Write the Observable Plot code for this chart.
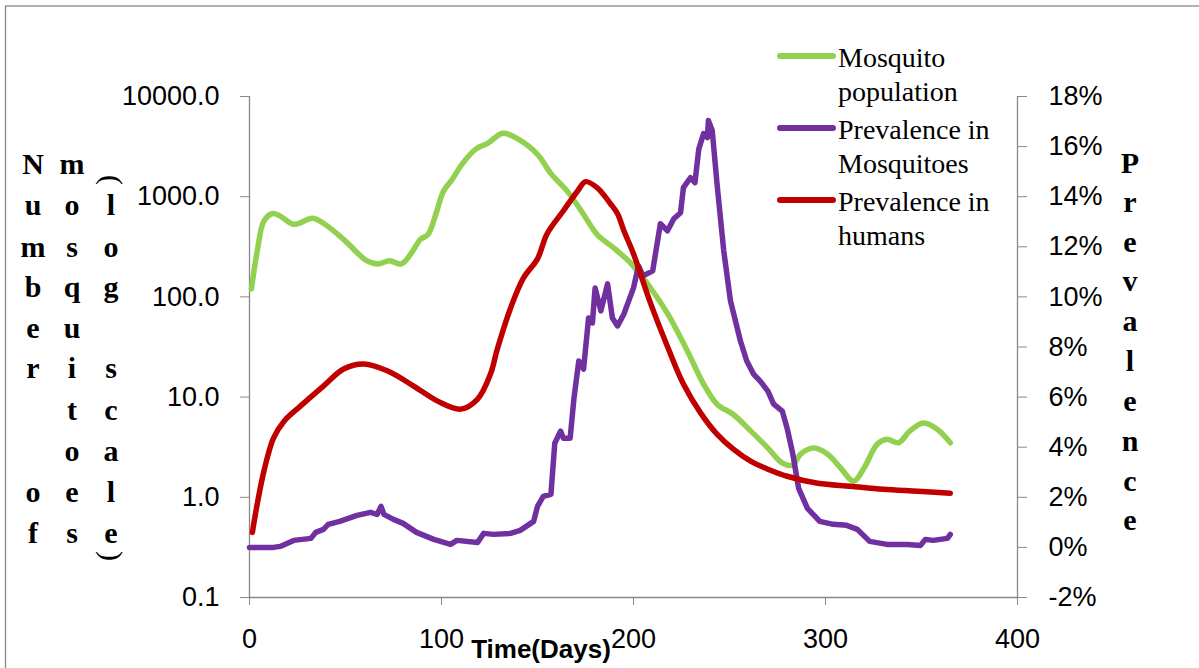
<!DOCTYPE html>
<html>
<head>
<meta charset="utf-8">
<script src="https://cdn.jsdelivr.net/npm/d3@7"></script>
<script src="https://cdn.jsdelivr.net/npm/@observablehq/plot@0.6"></script>
<style>
  html, body { margin: 0; padding: 0; background: #fff; }
  #chart { position: relative; width: 1199px; height: 668px; overflow: hidden; }
</style>
</head>
<body>
<div id="chart"></div>
<script>
// ---------- data ----------
const popDays = [1,4,7.5,12,16,23,33,38.7,49,61,67,73,79,84,89,93,97,101,105.5,111,118,124,132,139.5,150,157,165.6,174,181,190,199,209,218,228,236.5,243.5,252,261,270,277.5,283,287,294,301,308,314.6,320,327,332,338,344,351,358,365];
const mosquitoPopulation = [120,285,570,680,640,530,610,540,375,230,213,230,213,268,375,420,665,1130,1480,2150,3000,3400,4300,3800,2650,1700,1130,665,420,305,213,122,67,29,13.5,8.5,6.7,4.6,3.1,2.2,2.1,2.7,3.1,2.7,1.95,1.45,1.95,3.4,3.8,3.5,4.6,5.5,4.8,3.5];

const humDays = [1.5,4,7.5,12.5,18,26.5,38.5,49,59.5,72,85.5,98,110,118.8,125.5,129,136,142.7,150,155,163.5,171,175,181,188,191.7,195,200,209,218,226,235,243.5,252,261,270,280,296,313,330,348,365];
const prevalenceHumans = [0.6,1.72,3.04,4.36,5.04,5.64,6.44,7.12,7.32,7.04,6.44,5.84,5.52,5.92,6.92,7.9,9.56,10.76,11.52,12.52,13.44,14.24,14.6,14.36,13.72,13.32,12.64,11.72,9.72,7.96,6.52,5.36,4.52,3.92,3.44,3.12,2.84,2.56,2.44,2.32,2.24,2.16];

const mosDays = [0,12.5,16,23,32,34.5,38.5,41,47,56,63,66.5,68.5,70,75,80,87,96,104.7,108,118.8,122,127,136,141,148,150,153,157,159,162,163.5,167,169,171.5,174,176.6,178.6,180,183,186.5,189,191.7,195,200,202.6,205,210,214,217.7,221,224.5,226,229.7,232,234,236.5,238.5,239,241,243.5,247,250.5,255.7,259,262.5,266,270,273,277.5,280,283,286,290.6,297,304,311,316.6,323,332,342.7,349.5,352,356,363.5,365];
const prevalenceMosquitoes = [0,0,0.04,0.28,0.36,0.6,0.72,0.92,1.04,1.28,1.4,1.32,1.64,1.32,1.12,0.96,0.6,0.32,0.12,0.28,0.2,0.56,0.52,0.56,0.68,1.04,1.64,2.04,2.12,4.16,4.64,4.36,4.36,5.96,7.44,7.12,9.16,8.96,10.36,9.44,10.52,9.16,8.84,9.32,10.36,11.24,10.84,11.04,12.92,12.64,13.12,13.36,14.36,14.76,14.56,15.9,16.52,16.36,17.04,16.64,14.52,11.84,9.84,8.24,7.44,6.92,6.64,6.24,5.72,5.44,4.76,3.72,2.36,1.56,1.04,0.92,0.88,0.72,0.24,0.12,0.12,0.08,0.32,0.28,0.36,0.52];

const xTicks = [0,100,200,300,400];
const leftTicks = [0.1,1,10,100,1000,10000];
const rightTicks = [-2,0,2,4,6,8,10,12,14,16,18];

const seriesNames = ["Mosquito population","Prevalence in Mosquitoes","Prevalence in humans"];
const seriesColors = ["#92D050","#7030A0","#C00000"];

// map prevalence (secondary axis, -2..18 %) onto the primary log scale (0.1..10000)
const toY = p => Math.pow(10, (p + 2) / 4 - 1);

const pop = popDays.map((d, i) => ({day: d, v: mosquitoPopulation[i]}));
const hum = humDays.map((d, i) => ({day: d, p: prevalenceHumans[i]}));
const mos = mosDays.map((d, i) => ({day: d, p: prevalenceMosquitoes[i]}));

const axisGray = "#888888";
const lw = 5.5;

const plot = Plot.plot({
  width: 1199,
  height: 668,
  marginLeft: 249,
  marginRight: 182,
  marginTop: 96,
  marginBottom: 71,
  style: {fontFamily: "Liberation Sans, Arial, sans-serif", fontSize: "27px", color: "#000", background: "#fff"},
  x: {domain: [0, 400]},
  y: {type: "log", domain: [0.1, 10000]},
  marks: [
    Plot.ruleX([0], {y1: 0.1, y2: 10000, stroke: axisGray, strokeWidth: 1.3}),
    Plot.ruleX([400], {y1: 0.1, y2: 10000, stroke: axisGray, strokeWidth: 1.3}),
    Plot.ruleY([0.1], {x1: 0, x2: 400, stroke: axisGray, strokeWidth: 1.3}),
    Plot.axisY(leftTicks, {anchor: "left", tickSize: 9, tickPadding: 21, stroke: axisGray, fill: "#000", tickFormat: d => d.toFixed(1), label: null}),
    Plot.axisY(rightTicks.map(toY), {anchor: "right", tickSize: 9, stroke: axisGray, tickFormat: () => "", label: null}),
    Plot.text(rightTicks, {x: 400, y: toY, text: p => p + "%", dx: 31, textAnchor: "start", fill: "#000"}),
    Plot.axisX(xTicks, {anchor: "bottom", tickSize: 8, tickPadding: 23, stroke: axisGray, fill: "#000", label: null}),
    Plot.line(pop, {x: "day", y: "v", stroke: seriesColors[0], strokeWidth: lw, curve: "catmull-rom"}),
    Plot.line(mos, {x: "day", y: d => toY(d.p), stroke: seriesColors[1], strokeWidth: lw, curve: "linear", strokeLinejoin: "round"}),
    Plot.line(hum, {x: "day", y: d => toY(d.p), stroke: seriesColors[2], strokeWidth: lw, curve: "catmull-rom"})
  ]
});
document.getElementById("chart").appendChild(plot);

// ---------- extra text & frame ----------
const svg = d3.select(plot);
svg.append("rect").attr("x", 5.5).attr("y", 6).attr("width", 1400).attr("height", 900)
  .attr("fill", "none").attr("stroke", axisGray).attr("stroke-width", 1.3);

// x axis title
svg.append("text").attr("x", 541).attr("y", 658).attr("text-anchor", "middle")
  .attr("font-family", "Liberation Sans Narrow, Liberation Sans, Arial, sans-serif")
  .attr("font-weight", "bold").attr("font-size", 26).attr("fill", "#000").text("Time(Days)");

// left stacked label "Number of mosquitoes (log scale)"
const rowBase = [174,215,257,297,338,378,420,461,502,543];
const leftCols = [
  {x: 33, letters: ["N","u","m","b","e","r","o","f"], rows: [0,1,2,3,4,5,8,9]},
  {x: 72, letters: ["m","o","s","q","u","i","t","o","e","s"], rows: [0,1,2,3,4,5,6,7,8,9]},
  {x: 111, letters: ["l","o","g","s","c","a","l","e"], rows: [1,2,3,5,6,7,8,9]}
];
const lbl = svg.append("g").attr("font-family", "Liberation Serif, Times New Roman, serif")
  .attr("font-weight", "bold").attr("font-size", 30).attr("fill", "#000").attr("text-anchor", "middle");
leftCols.forEach(c => {
  c.letters.forEach((ch, i) => {
    lbl.append("text").attr("x", c.x).attr("y", rowBase[c.rows[i]]).text(ch);
  });
});
// rotated parentheses
lbl.append("text").attr("transform", "translate(111,180) rotate(90)").attr("dy", "0.3em").attr("font-weight", "normal").text("(");
lbl.append("text").attr("transform", "translate(111,556) rotate(90)").attr("dy", "0.3em").attr("font-weight", "normal").text(")");

// right stacked label "Prevalence"
const prevBase = [173,212,252,291,331,371,411,451,491,530];
"Prevalence".split("").forEach((ch, i) => {
  lbl.append("text").attr("x", 1130).attr("y", prevBase[i]).text(ch);
});

// legend
const legendY = [56, 128, 200];
const legendLines = [["Mosquito","population"],["Prevalence in","Mosquitoes"],["Prevalence in","humans"]];
const leg = svg.append("g").attr("text-anchor", "start");
seriesNames.forEach((name, i) => {
  leg.append("line").attr("x1", 780).attr("x2", 833).attr("y1", legendY[i]).attr("y2", legendY[i])
    .attr("stroke", seriesColors[i]).attr("stroke-width", 6).attr("stroke-linecap", "round");
  const t = leg.append("text").attr("font-family", "Liberation Serif, Times New Roman, serif")
    .attr("font-size", 28).attr("fill", "#000").attr("text-anchor", "start");
  legendLines[i].forEach((line, j) => {
    t.append("tspan").attr("x", 838).attr("y", legendY[i] + 11 + j * 34).text(line);
  });
});
</script>
</body>
</html>
